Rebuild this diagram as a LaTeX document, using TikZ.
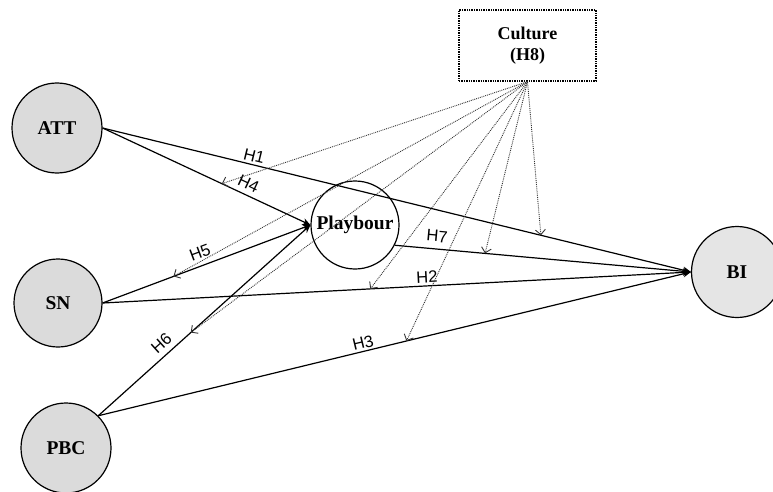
\documentclass[tikz,border=0pt]{standalone}
\usepackage{fontspec}
\setmainfont{Liberation Serif}
\newfontfamily\hfont{Liberation Sans}
\usetikzlibrary{arrows.meta}
\begin{document}
\begin{tikzpicture}[x=1pt,y=-1pt,
  latent/.style={circle,draw=black,line width=1.2pt,minimum size=90pt,inner sep=0pt,
    font=\fontsize{19.5}{21}\selectfont\bfseries},
  hyp/.style={line width=1.2pt,draw=black,-{Stealth[length=8pt,width=7pt]}},
  modarrow/.style={densely dotted,line width=0.9pt,draw=black!80,
    -{Straight Barb[length=5pt,width=10pt,line width=0.9pt]}},
  hlab/.style={font=\hfont\fontsize{16.5}{17}\selectfont,sloped,inner sep=2pt}
]
\useasboundingbox (0,0) rectangle (773,492);

\node[latent,fill=gray!28] (att) at (57,128) {ATT};
\node[latent,fill=gray!28,minimum size=88pt] (sn) at (58,303) {SN};
\node[latent,fill=gray!28] (pbc) at (66,448) {PBC};
\node[latent,fill=white,minimum size=88pt] (pl) at (355,225) {Playbour};
\node[latent,fill=gray!20,minimum size=91pt] (bi) at (737,272) {BI};
\node[draw=black,densely dotted,line width=1.4pt,minimum width=137pt,minimum height=71pt,
  align=center,font=\fontsize{18}{21}\selectfont\bfseries] (cult) at (527.5,45.5) {Culture\\(H8)};

\draw[hyp] (att.east) -- node[hlab,pos=0.254,above=0.5pt]{H1} coordinate[pos=0.745] (t1) (bi.west);
\draw[hyp] (att.east) -- node[hlab,pos=0.68,above=2.5pt]{H4} coordinate[pos=0.574] (t4) (pl.west);
\draw[hyp] (sn.east) -- node[hlab,pos=0.49,above=4.5pt]{H5} coordinate[pos=0.341] (t5) (pl.west);
\draw[hyp] (pbc.45) -- node[hlab,pos=0.335,above=3.5pt]{H6} coordinate[pos=0.436] (t6) (pl.west);
\draw[hyp] (sn.east) -- node[hlab,pos=0.552,above=0.5pt]{H2} coordinate[pos=0.455] (t2) (bi.west);
\draw[hyp] (pbc.45) -- node[hlab,pos=0.45,above=0pt]{H3} coordinate[pos=0.52] (t3) (bi.west);
\draw[hyp] (pl.-27) -- node[hlab,pos=0.139,above=4.5pt]{H7} coordinate[pos=0.305] (t7) (bi.west);

\foreach \t in {t1,t4,t5,t6,t2,t3,t7}
  \draw[modarrow] (cult.south) -- (\t);
\end{tikzpicture}
\end{document}
